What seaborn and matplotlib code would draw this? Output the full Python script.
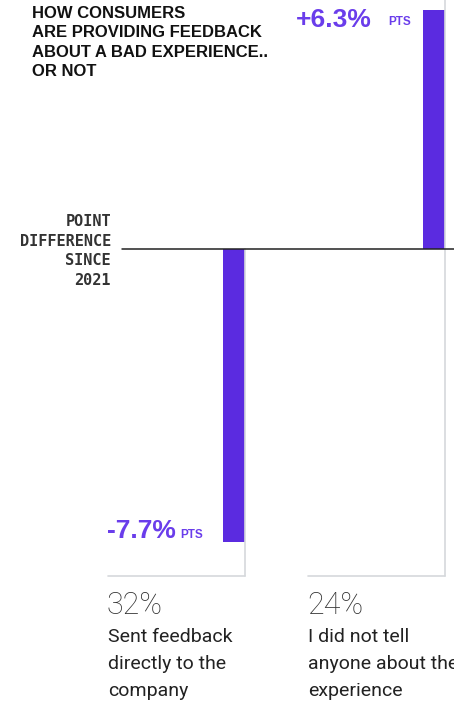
import matplotlib
matplotlib.use("Agg")
import matplotlib.pyplot as plt
import seaborn as sns
import pandas as pd

categories = ["Sent feedback\ndirectly to the\ncompany", "I did not tell\nanyone about the\nexperience"]
share_labels = ["32%", "24%"]
point_change = [-7.7, 6.3]
change_labels = ["-7.7%", "+6.3%"]
title = "HOW CONSUMERS\nARE PROVIDING FEEDBACK\nABOUT A BAD EXPERIENCE..\nOR NOT"
axis_note = "POINT\nDIFFERENCE\nSINCE\n2021"

PURPLE = "#5B2BE0"
TXT_PURPLE = "#6A3DEB"
GREY = "#D5D8DC"

sns.set_style("white")
W, H = 454, 704
fig = plt.figure(figsize=(W / 100, H / 100), dpi=100)
ax = fig.add_axes([0, 0, 1, 1])

df = pd.DataFrame({"cat": categories, "val": point_change})
sns.barplot(data=df, x="cat", y="val", color=PURPLE, width=0.11, ax=ax,
            saturation=1, order=categories)
for p in ax.patches:
    p.set_edgecolor("none")

# pixel mapping: x_data = (px-234)/200 ; y_data = (249-py)/38
def px2x(px):
    return (px - 234) / 200
def py2y(py):
    return (249 - py) / 38

ax.set_xlim(px2x(0), px2x(W))
ax.set_ylim(py2y(H), py2y(0))
ax.axis("off")

# zero line
ax.plot([px2x(122), px2x(W)], [0, 0], color="#222222", lw=1.1, zorder=3)
# panel borders
ybot = py2y(576)
ax.plot([px2x(108), px2x(245)], [ybot, ybot], color=GREY, lw=1.2, zorder=1)
ax.plot([px2x(245), px2x(245)], [0, ybot], color=GREY, lw=1.2, zorder=1)
ax.plot([px2x(308), px2x(445)], [ybot, ybot], color=GREY, lw=1.2, zorder=1)
ax.plot([px2x(445), px2x(445)], [py2y(0), ybot], color=GREY, lw=1.2, zorder=1)

def ftext(px, py, s, **kw):
    fig.text(px / W, 1 - py / H, s, **kw)

ftext(32, 42.5, title, fontsize=12, fontweight="bold", family="Liberation Sans",
      va="center", ha="left", color="#111111", linespacing=1.34)
ftext(111, 251, axis_note, fontsize=11, family="DejaVu Sans Mono", fontweight="bold",
      va="center", ha="right", color="#333333", linespacing=1.4)

# change labels
ftext(296, 20, change_labels[1], fontsize=19, fontweight="bold", family="Liberation Sans",
      color=TXT_PURPLE, va="center", ha="left")
ftext(388, 22, "PTS", fontsize=8.5, fontweight="bold", family="Liberation Sans",
      color=TXT_PURPLE, va="center", ha="left")
ftext(107, 531, change_labels[0], fontsize=19, fontweight="bold", family="Liberation Sans",
      color=TXT_PURPLE, va="center", ha="left")
ftext(180, 535, "PTS", fontsize=8.5, fontweight="bold", family="Liberation Sans",
      color=TXT_PURPLE, va="center", ha="left")

# bottom labels
for x0, share, lab in zip([108, 308], share_labels, categories):
    ftext(x0 - 1, 606, share, fontsize=22, family="Roboto", fontweight="light",
          color="#333333", va="center", ha="left")
    ftext(x0, 664, lab, fontsize=14, family="Roboto", color="#222222",
          va="center", ha="left", linespacing=1.62)

fig.savefig("out.png", dpi=100)
